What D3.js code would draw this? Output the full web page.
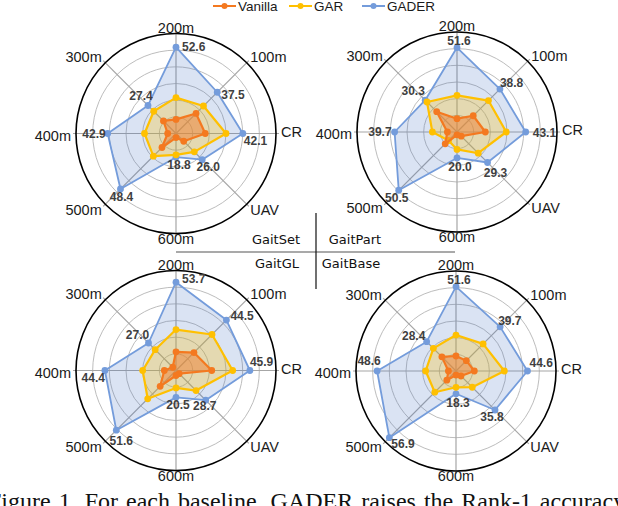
<!DOCTYPE html>
<html>
<head>
<meta charset="utf-8">
<script src="https://cdn.jsdelivr.net/npm/d3@7"></script>
<style>
  body { margin: 0; background: #fff; }
  svg { display: block; }
</style>
</head>
<body>
<div id="chart"></div>
<script>
// axes go clockwise starting at the top
const axes = ["200m", "100m", "CR", "UAV", "600m", "500m", "400m", "300m"];
const seriesNames = ["Vanilla", "GAR", "GADER"];

const gaitSetVanilla = [13.6, 21.3, 21.8, 11.9, 8.2, 16.7, 10.5, 15.6];
const gaitSetGAR     = [25.4, 27.0, 33.0, 20.0, 17.5, 23.3, 23.0, 23.0];
const gaitSetGADER   = [52.6, 37.5, 42.1, 26.0, 18.8, 48.4, 42.9, 27.4];

const gaitPartVanilla = [13.2, 18.4, 21.3, 9.2, 7.5, 15.0, 11.2, 21.5];
const gaitPartGAR     = [25.8, 30.0, 32.6, 22.2, 15.4, 12.5, 19.3, 28.9];
const gaitPartGADER   = [51.6, 38.8, 43.1, 29.3, 20.0, 50.5, 39.7, 30.3];

const gaitGLVanilla = [16.1, 19.7, 25.3, 8.4, 8.7, 18.1, 12.3, 8.5];
const gaitGLGAR     = [28.1, 33.5, 36.6, 21.3, 15.4, 27.6, 24.0, 21.9];
const gaitGLGADER   = [53.7, 44.5, 45.9, 28.7, 20.5, 51.6, 44.4, 27.0];

const gaitBaseVanilla = [14.1, 13.9, 15.9, 9.8, 8.2, 13.0, 10.1, 16.8];
const gaitBaseGAR     = [25.4, 26.7, 32.1, 18.4, 14.8, 22.2, 22.4, 23.3];
const gaitBaseGADER   = [51.6, 39.7, 44.6, 35.8, 18.3, 56.9, 48.6, 28.4];

const panelNames = ["GaitSet", "GaitPart", "GaitGL", "GaitBase"];

// where the GADER value labels sit relative to their point [dx, dy, anchor]
const gaitSetLabelPos = [[6,0,"start"],[4,3,"start"],[1,7,"start"],[6,7,"middle"],[3,8,"middle"],[1,8,"middle"],[-2,0,"end"],[-7,-9,"middle"]];
const gaitPartLabelPos = [[2,-7,"middle"],[0,-6,"start"],[7,1,"start"],[8,10,"middle"],[3,9,"middle"],[-2,8,"middle"],[-3,0,"end"],[-12,-9,"middle"]];
const gaitGLLabelPos = [[6,-3,"start"],[4,-4,"start"],[0,-9,"start"],[-1,6,"middle"],[2,8,"middle"],[5,11,"middle"],[0,7,"end"],[-11,-8,"middle"]];
const gaitBaseLabelPos = [[3,-7,"middle"],[-2,-6,"start"],[2,-8,"start"],[-3,7,"middle"],[2,9,"middle"],[2,6,"start"],[-8,-10,"middle"],[-13,-6,"middle"]];

const width = 618, height = 506;
const R = 100;

const colors = { Vanilla: "#f47920", GAR: "#ffc000", GADER: "#749cdb" };
const fills  = { Vanilla: "#ed7d31", GAR: "#ffc000", GADER: "#4472c4" };
const fillOpacity = { Vanilla: 0.5, GAR: 0.27, GADER: 0.2 };

const svg = d3.select("#chart").append("svg")
    .attr("width", width)
    .attr("height", height);

const rScale = d3.scaleLinear().domain([6, 60]).range([0, R]);
const ringValues = d3.range(15, 61, 9);
const angle = d3.scalePoint().domain(axes).range([0, 2 * Math.PI * 7 / 8]);

const radarLine = d3.lineRadial()
    .angle((d, i) => angle(axes[i]))
    .radius(d => rScale(d))
    .curve(d3.curveLinearClosed);

function px(v, i) { return rScale(v) * Math.sin(angle(axes[i])); }
function py(v, i) { return -rScale(v) * Math.cos(angle(axes[i])); }

const panels = [
    { name: panelNames[0], cx: 176, cy: 133.5, data: { Vanilla: gaitSetVanilla, GAR: gaitSetGAR, GADER: gaitSetGADER }, labels: gaitSetLabelPos },
    { name: panelNames[1], cx: 457, cy: 132, data: { Vanilla: gaitPartVanilla, GAR: gaitPartGAR, GADER: gaitPartGADER }, labels: gaitPartLabelPos },
    { name: panelNames[2], cx: 176, cy: 370.5, data: { Vanilla: gaitGLVanilla, GAR: gaitGLGAR, GADER: gaitGLGADER }, labels: gaitGLLabelPos },
    { name: panelNames[3], cx: 456, cy: 371, data: { Vanilla: gaitBaseVanilla, GAR: gaitBaseGAR, GADER: gaitBaseGADER }, labels: gaitBaseLabelPos }
];

panels.forEach(p => {
    let g = svg.append("g").attr("transform", `translate(${p.cx}, ${p.cy})`);

    // grid rings
    g.selectAll(".ring").data(ringValues.slice(0, -1)).enter()
        .append("circle")
        .attr("class", "ring")
        .attr("r", d => rScale(d))
        .attr("fill", "none")
        .attr("stroke", "#bdbdbd")
        .attr("stroke-width", 1);

    // spokes
    g.selectAll(".spoke").data(axes).enter()
        .append("line")
        .attr("class", "spoke")
        .attr("x1", 0).attr("y1", 0)
        .attr("x2", d => (R + 3) * Math.sin(angle(d)))
        .attr("y2", d => -(R + 3) * Math.cos(angle(d)))
        .attr("stroke", "#a6a6a6")
        .attr("stroke-width", 1.2);

    g.append("circle")
        .attr("r", rScale(60))
        .attr("fill", "none")
        .attr("stroke", "#000")
        .attr("stroke-width", 1.6);

    // axis labels
    g.selectAll(".axis-label").data(axes).enter()
        .append("text")
        .attr("class", "axis-label")
        .attr("x", d => (R + 5) * Math.sin(angle(d)))
        .attr("y", d => {
            let c = Math.cos(angle(d));
            return -(R + 5) * c - (Math.abs(c) > 0.9 ? 0 : 2 * Math.sign(c)) - (c > 0.9 ? 1 : 0);
        })
        .attr("text-anchor", d => {
            let s = Math.sin(angle(d));
            return s > 0.1 ? "start" : (s < -0.1 ? "end" : "middle");
        })
        .attr("dominant-baseline", "central")
        .attr("font-family", "Liberation Sans, Arial, sans-serif")
        .attr("font-size", 14.5)
        .attr("fill", "#1a1a1a")
        .text(d => d);

    // series, biggest first so the smaller ones sit on top
    ["GADER", "GAR", "Vanilla"].forEach(s => {
        let vals = p.data[s];
        g.append("path")
            .datum(vals)
            .attr("d", radarLine)
            .attr("fill", fills[s])
            .attr("fill-opacity", fillOpacity[s])
            .attr("stroke", colors[s])
            .attr("stroke-width", s === "GADER" ? 1.8 : 2.2)
            .attr("stroke-linejoin", "round");

        g.selectAll(".pt-" + s).data(vals).enter()
            .append("circle")
            .attr("class", "pt-" + s)
            .attr("cx", (d, i) => px(d, i))
            .attr("cy", (d, i) => py(d, i))
            .attr("r", 3.4)
            .attr("fill", colors[s]);
    });

    // GADER value labels
    g.selectAll(".val").data(p.data.GADER).enter()
        .append("text")
        .attr("class", "val")
        .attr("x", (d, i) => px(d, i) + p.labels[i][0])
        .attr("y", (d, i) => py(d, i) + p.labels[i][1])
        .attr("text-anchor", (d, i) => p.labels[i][2])
        .attr("dominant-baseline", "central")
        .attr("font-family", "Liberation Sans, Arial, sans-serif")
        .attr("font-weight", "bold")
        .attr("font-size", 12)
        .attr("fill", "#3f3f3f")
        .text(d => d3.format(".1f")(d));
});

// panel name grid in the middle
svg.append("line")
    .attr("x1", 176).attr("x2", 455)
    .attr("y1", 252).attr("y2", 252)
    .attr("stroke", "#555").attr("stroke-width", 1.2);
svg.append("line")
    .attr("x1", 316).attr("x2", 316)
    .attr("y1", 213).attr("y2", 289)
    .attr("stroke", "#111").attr("stroke-width", 1.2);

const namePos = [[276, 239], [355, 239], [277, 263], [351, 263]];
svg.selectAll(".panel-name").data(panelNames).enter()
    .append("text")
    .attr("class", "panel-name")
    .attr("x", (d, i) => namePos[i][0])
    .attr("y", (d, i) => namePos[i][1])
    .attr("text-anchor", "middle")
    .attr("dominant-baseline", "central")
    .attr("font-family", "DejaVu Sans, Verdana, sans-serif")
    .attr("font-size", 13)
    .attr("fill", "#111")
    .text(d => d);

// legend
const legendX = [213, 289, 362];
let legend = svg.selectAll(".legend").data(seriesNames).enter()
    .append("g")
    .attr("class", "legend")
    .attr("transform", (d, i) => `translate(${legendX[i]}, 6)`);

legend.append("line")
    .attr("x1", 0).attr("x2", 23)
    .attr("stroke", d => colors[d])
    .attr("stroke-width", 2);
legend.append("circle")
    .attr("cx", 11.5).attr("r", 3)
    .attr("fill", d => colors[d]);
legend.append("text")
    .attr("x", 25)
    .attr("dominant-baseline", "central")
    .attr("font-family", "Liberation Sans, Arial, sans-serif")
    .attr("font-size", 13.5)
    .attr("fill", "#1a1a1a")
    .text(d => d);

// caption, cut off by the frame like in the figure
svg.append("text")
    .attr("x", -12)
    .attr("y", 509)
    .attr("font-family", "Liberation Serif, Times New Roman, serif")
    .attr("font-size", 24)
    .attr("word-spacing", 2)
    .attr("fill", "#111")
    .text("Figure 1. For each baseline, GADER raises the Rank-1 accuracy of");
</script>
</body>
</html>
